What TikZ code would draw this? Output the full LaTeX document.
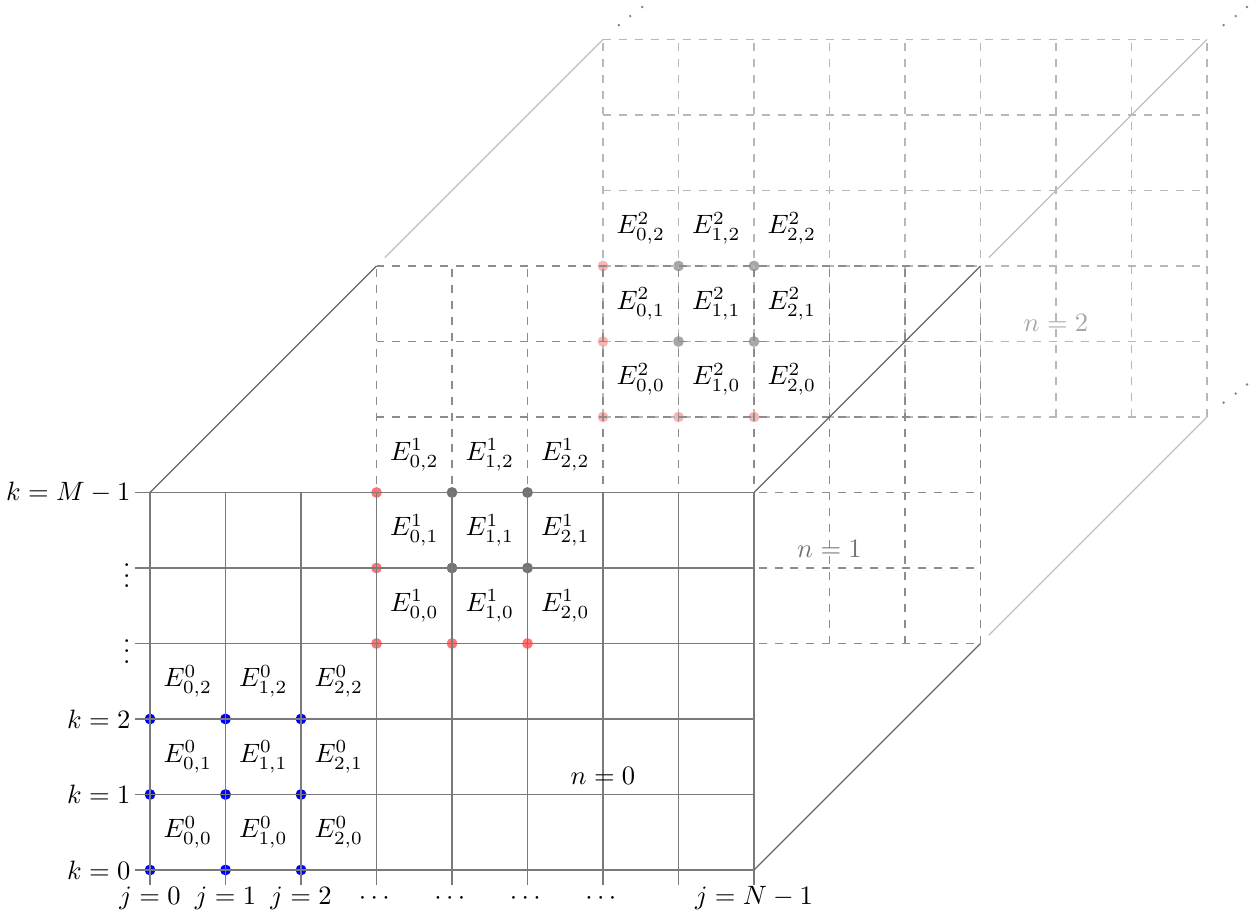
\documentclass[tikz,border=0pt]{standalone}
\usepackage{amsmath}
\begin{document}
\begin{tikzpicture}[x=1cm,y=1cm,
  grid0/.style={draw=black!52, line width=0.5pt},
  grid1/.style={draw=black!45, dashed, line width=0.5pt},
  grid2/.style={draw=black!28, dashed, line width=0.5pt},
  edgeline/.style={draw=black!60, line width=0.5pt},
  faintline/.style={draw=black!25, line width=0.5pt},
  dotb/.style={fill=blue},
  dotr/.style={fill=red!55},
  dotg/.style={fill=black!55},
  dotrl/.style={fill=red!30},
  dotgl/.style={fill=black!35},
  klabel/.style={anchor=east, inner sep=1.5pt},
  jlabel/.style={anchor=base, inner sep=0pt},
  elabel/.style={inner sep=0pt},
  etc/.style={fill=black!50}
]
\def\dotr{0.072}
\useasboundingbox (-1.987,-0.623) rectangle (14.649,11.523);

% corners of the three layers
\coordinate (A0) at (0,5);   \coordinate (A1) at (3,8);   \coordinate (A1b) at (3.11,8.11); \coordinate (A2) at (6,11);
\coordinate (B0) at (8,5);   \coordinate (B1) at (11,8);  \coordinate (B1b) at (11.11,8.11); \coordinate (B2) at (14,11);
\coordinate (C0) at (8,0);   \coordinate (C1) at (11,3);  \coordinate (C1b) at (11.11,3.11); \coordinate (C2) at (14,6);

% ---------- layer n = 2 ----------
\foreach \p/\q in {6/6,7/6,8/6,6/7,6/8}
  \fill[dotrl] (\p,\q) circle (\dotr);
\foreach \p/\q in {7/7,8/7,7/8,8/8}
  \fill[dotgl] (\p,\q) circle (\dotr);
\draw[grid2] (6,6) grid (14,11);

% ---------- layer n = 1 ----------
\foreach \p/\q in {3/3,4/3,5/3,3/4,3/5}
  \fill[dotr] (\p,\q) circle (\dotr);
\foreach \p/\q in {4/4,5/4,4/5,5/5}
  \fill[dotg] (\p,\q) circle (\dotr);
\draw[grid1] (3,3) grid (11,8);

% ---------- layer n = 0 ----------
\foreach \p in {0,1,2}
  \foreach \q in {0,1,2}
    \fill[dotb] (\p,\q) circle (\dotr);
\foreach \x in {0,...,8}
  \draw[grid0] (\x,-0.2) -- (\x,5);
\foreach \y in {0,...,5}
  \draw[grid0] (-0.2,\y) -- (8,\y);

% ---------- depth edges ----------
\draw[edgeline] (A0) -- (A1);
\draw[faintline] (A1b) -- (A2);
\draw[edgeline] (B0) -- (B1);
\draw[faintline] (B1b) -- (B2);
\draw[edgeline] (C0) -- (C1);
\draw[faintline] (C1b) -- (C2);

% continuation dots
\foreach \x/\y in {6.21/11.19, 6.36/11.31, 6.52/11.43,
                   14.22/11.19, 14.38/11.31, 14.53/11.43,
                   14.22/6.19, 14.38/6.31, 14.53/6.43}
  \fill[etc] (\x,\y) circle (0.018);

% ---------- cell labels ----------
\foreach \p in {0,1,2}
  \foreach \q in {0,1,2} {
    \node[elabel] (e0-\p-\q) at (\p+0.5,\q+0.5) {$E^{0}_{\p,\q}$};
    \node[elabel] (e1-\p-\q) at (\p+3.5,\q+3.5) {$E^{1}_{\p,\q}$};
    \node[elabel] (e2-\p-\q) at (\p+6.5,\q+6.5) {$E^{2}_{\p,\q}$};
  }

% ---------- axis labels ----------
\node[klabel] (k0) at (-0.2,0) {$k=0$};
\node[klabel] (k1) at (-0.2,1) {$k=1$};
\node[klabel] (k2) at (-0.2,2) {$k=2$};
\node[klabel] (kv1) at (-0.2,3) {$\vdots$};
\node[klabel] (kv2) at (-0.2,4) {$\vdots$};
\node[klabel] (kM) at (-0.2,5) {$k=M-1$};

\node[jlabel] (j0) at (0,-0.46) {$j=0$};
\node[jlabel] (j1) at (1,-0.46) {$j=1$};
\node[jlabel] (j2) at (2,-0.46) {$j=2$};
\node[jlabel] (jc3) at (3,-0.46) {$\cdots$};
\node[jlabel] (jc4) at (4,-0.46) {$\cdots$};
\node[jlabel] (jc5) at (5,-0.46) {$\cdots$};
\node[jlabel] (jc6) at (6,-0.46) {$\cdots$};
\node[jlabel] (jN) at (8,-0.46) {$j=N-1$};

% ---------- layer labels ----------
\node (n0) at (6,1.25) {$n=0$};
\node[text=black!55] (n1) at (9,4.25) {$n=1$};
\node[text=black!35] (n2) at (12,7.25) {$n=2$};
\end{tikzpicture}
\end{document}
